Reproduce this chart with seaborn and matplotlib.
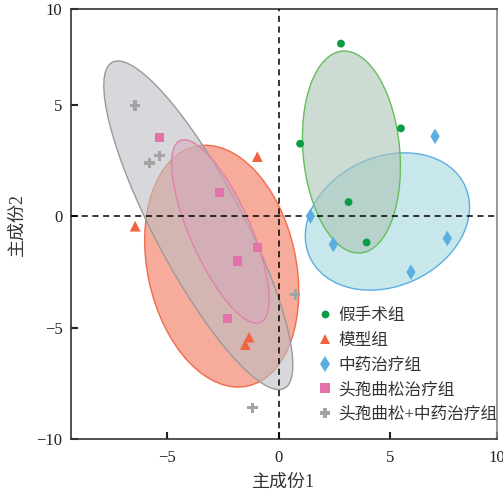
import numpy as np
import pandas as pd
import matplotlib
matplotlib.use("Agg")
import matplotlib.pyplot as plt
import seaborn as sns
from matplotlib.patches import Ellipse

# PCA scores
groups = ["假手术组", "模型组", "中药治疗组", "头孢曲松治疗组", "头孢曲松+中药治疗组"]

sham_x = [2.79, 0.96, 5.48, 3.13, 3.94]
sham_y = [7.75, 3.26, 3.95, 0.64, -1.17]
model_x = [-0.96, -6.44, -1.33, -1.50]
model_y = [2.68, -0.44, -5.42, -5.75]
tcm_x = [7.01, 1.42, 2.45, 7.56, 5.93]
tcm_y = [3.59, 0.01, -1.26, -0.99, -2.50]
cef_x = [-5.34, -2.65, -0.97, -1.84, -2.29]
cef_y = [3.54, 1.06, -1.41, -2.00, -4.57]
combo_x = [-6.44, -5.35, -5.80, 0.74, -1.18]
combo_y = [4.97, 2.72, 2.39, -3.50, -8.58]

point_colors = ["#0c9b46", "#f0653f", "#5aaee0", "#e372aa", "#a3a3a3"]
face_colors = ["#acc5b7", "#f2664a", "#93d1d9", "#d4a8bc", "#bcbfc3"]
face_alpha = [0.6, 0.55, 0.5, 0.5, 0.6]
edge_colors = ["#66bd5c", "#f26b4b", "#5aaee6", "#e081ab", "#9a9a9a"]
markers = ["o", "^", "d", "s", "P"]
marker_sizes = [32, 60, 62, 44, 55]
draw_order = [2, 0, 1, 4, 3]

xs = [sham_x, model_x, tcm_x, cef_x, combo_x]
ys = [sham_y, model_y, tcm_y, cef_y, combo_y]

df = pd.concat(
    [pd.DataFrame({"PC1": x, "PC2": y, "group": g}) for g, x, y in zip(groups, xs, ys)],
    ignore_index=True,
)

sns.set_style("ticks")
plt.rcParams["font.family"] = ["Liberation Serif", "Noto Sans CJK SC"]
plt.rcParams["axes.unicode_minus"] = True


def cov_ellipse(x, y, k, **kw):
    x = np.asarray(x)
    y = np.asarray(y)
    cov = np.cov(x, y)
    vals, vecs = np.linalg.eigh(cov)
    order = vals.argsort()[::-1]
    vals, vecs = vals[order], vecs[:, order]
    angle = np.degrees(np.arctan2(vecs[1, 0], vecs[0, 0]))
    w, h = 2 * k * np.sqrt(vals)
    return Ellipse((x.mean(), y.mean()), w, h, angle=angle, **kw)


fig = plt.figure(figsize=(5.03, 4.94), dpi=100)
ax = fig.add_axes([0.1406, 0.1107, 0.8475, 0.8701])

# group ellipses (fill + outline)
for n, i in enumerate(draw_order):
    ax.add_patch(cov_ellipse(xs[i], ys[i], 1.33, facecolor=face_colors[i],
                             alpha=face_alpha[i], edgecolor="none", zorder=1 + n * 0.1))
    ax.add_patch(cov_ellipse(xs[i], ys[i], 1.33, facecolor="none",
                             edgecolor=edge_colors[i], lw=1.0, zorder=1.05 + n * 0.1))

ax.axhline(0, color="black", ls=(0, (4, 3)), lw=1.1, zorder=3)
ax.axvline(0, color="black", ls=(0, (4, 3)), lw=1.1, zorder=3)

sns.scatterplot(
    data=df, x="PC1", y="PC2", hue="group", style="group", size="group",
    hue_order=groups, style_order=groups, size_order=groups,
    palette=dict(zip(groups, point_colors)),
    markers=dict(zip(groups, markers)),
    sizes=dict(zip(groups, marker_sizes)),
    linewidth=0, ax=ax, zorder=4,
)

x_lo, x_hi = -9.33, 9.79
y_lo, y_hi = -10, 9.28
ax.set_xlim(x_lo, x_hi)
ax.set_ylim(y_lo, y_hi)
# the reference labels the right/top frame edge as 10
ax.set_xticks([-5, 0, 5, x_hi], ["\u22125", "0", "5", "10"])
ax.set_yticks([-10, -5, 0, 5, y_hi], ["\u221210", "\u22125", "0", "5", "10"])
ax.tick_params(direction="in", length=5, width=1.5, labelsize=12, colors="#222222")
ax.tick_params(axis="x", pad=7.5)
ax.tick_params(axis="y", pad=6)
ax.set_xlabel("主成份1", fontsize=13, color="#333333", labelpad=6)
ax.set_ylabel("主成份2", fontsize=13, color="#333333", labelpad=8)

for side in ["left", "bottom", "top"]:
    ax.spines[side].set_color("#333333")
    ax.spines[side].set_linewidth(1.2)
ax.spines["right"].set_color("#888888")
ax.spines["right"].set_linewidth(1.2)

handles, labels = ax.get_legend_handles_labels()
ax.legend(handles, labels, loc="upper left", bbox_to_anchor=(0.578, 0.305),
          frameon=False, fontsize=12, handlelength=1.0, handletextpad=0.25,
          labelspacing=0.52, borderpad=0, borderaxespad=0, labelcolor="#333333")

fig.savefig("out.png", dpi=100)
